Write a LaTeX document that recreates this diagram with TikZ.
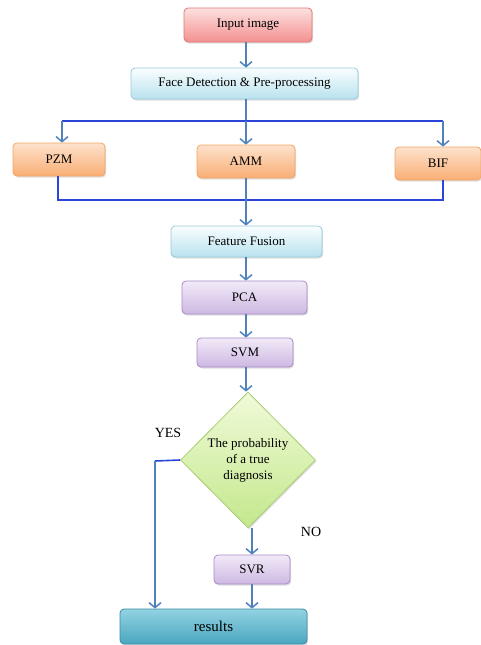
\documentclass[tikz,border=0pt]{standalone}
\usepackage{fontspec}
\setmainfont{Liberation Serif}
\usetikzlibrary{shapes.geometric,arrows.meta,shadows,calc}
\definecolor{arrblue}{HTML}{4F81BD}
\definecolor{busblue}{HTML}{2A45D8}
\definecolor{pinkT}{HTML}{FCE0E0}\definecolor{pinkB}{HTML}{F49090}\definecolor{pinkD}{HTML}{E07878}
\definecolor{cyanT}{HTML}{FAFEFF}\definecolor{cyanB}{HTML}{B8E2EE}\definecolor{cyanD}{HTML}{98CCDC}
\definecolor{oraT}{HTML}{FDE2CC}\definecolor{oraB}{HTML}{F9AE74}\definecolor{oraD}{HTML}{F2A466}
\definecolor{purT}{HTML}{F2EAF8}\definecolor{purB}{HTML}{CDB8E2}\definecolor{purD}{HTML}{A88AC8}
\definecolor{grnT}{HTML}{F0FAD8}\definecolor{grnB}{HTML}{C4E88C}\definecolor{grnD}{HTML}{A8CC78}
\definecolor{tealT}{HTML}{92D2E2}\definecolor{tealB}{HTML}{4AA6C0}\definecolor{tealD}{HTML}{3A8CA4}
\tikzset{
  box/.style={rounded corners=4pt, line width=0.8pt, align=center, inner sep=0pt,
    font=\fontsize{13}{15}\selectfont,
    drop shadow={opacity=0.25, shadow xshift=1.2pt, shadow yshift=-1.5pt}},
  pinkbox/.style={box, draw=pinkD, top color=pinkT, bottom color=pinkB},
  cyanbox/.style={box, draw=cyanD, top color=cyanT, bottom color=cyanB},
  orangebox/.style={box, draw=oraD, top color=oraT, bottom color=oraB},
  purplebox/.style={box, draw=purD, top color=purT, bottom color=purB},
  tealbox/.style={box, draw=tealD, top color=tealT, bottom color=tealB,
    font=\fontsize{15}{17}\selectfont},
  decision/.style={diamond, draw=grnD, line width=0.8pt, inner sep=0pt, align=center,
    top color=grnT, bottom color=grnB,
    font=\fontsize{13}{16}\selectfont,
    drop shadow={opacity=0.25, shadow xshift=1.2pt, shadow yshift=-1.5pt}},
  arr/.style={draw=arrblue, line width=1.6pt, -{Straight Barb[length=5pt,width=12pt,line width=1.5pt]}},
  plainline/.style={draw=arrblue, line width=1.6pt},
  bus/.style={draw=busblue, line width=1.6pt},
  lbl/.style={font=\fontsize{14}{16}\selectfont},
}
\begin{document}
\begin{tikzpicture}[x=1pt,y=-1pt]
\useasboundingbox (0,0) rectangle (480,645);
\node[pinkbox, minimum width=128pt, minimum height=34pt] (input) at (248,25) {Input image};
\node[cyanbox, minimum width=227pt, minimum height=31pt] (face) at (244.5,83.5) {Face Detection \& Pre-processing};
\node[orangebox, minimum width=92pt, minimum height=33pt] (pzm) at (59,159.5) {PZM};
\node[orangebox, minimum width=98pt, minimum height=33pt] (amm) at (246,161.5) {AMM};
\node[orangebox, minimum width=86pt, minimum height=33pt] (bif) at (438,163.5) {BIF};
\node[cyanbox, minimum width=151pt, minimum height=31pt] (fusion) at (246.5,241.5) {Feature Fusion};
\node[purplebox, minimum width=125pt, minimum height=33pt] (pca) at (244.5,297.5) {PCA};
\node[purplebox, minimum width=96pt, minimum height=29pt] (svm) at (245,352.5) {SVM};
\node[decision, minimum width=135pt, minimum height=136pt] (dec) at (248,460) {The probability\\of a true\\diagnosis};
\node[purplebox, minimum width=76pt, minimum height=29pt] (svr) at (252,569.5) {SVR};
\node[tealbox, minimum width=187pt, minimum height=35pt] (res) at (213.5,626.5) {results};
\node[lbl] (yes) at (168,433) {YES};
\node[lbl] (no) at (311,532) {NO};

\coordinate (split) at (246,121);
\coordinate (bl) at (62,121);
\coordinate (br) at (443,121);
\coordinate (jl) at (58,200);
\coordinate (jr) at (443,200);
\coordinate (yc) at (155,461);

\draw[arr] (input.south -| split) -- (face.north -| split);
\draw[plainline] (face.south -| split) -- (split);
\draw[bus] (bl) -- (br);
\draw[arr] (bl) -- (pzm.north -| bl);
\draw[arr] (split) -- (amm.north -| split);
\draw[arr] (br) -- (bif.north -| br);
\draw[bus] (pzm.south -| jl) -- (jl) -- (jr) -- (bif.south -| jr);
\draw[arr] (amm.south -| split) -- (fusion.north -| split);
\draw[arr] (fusion.south -| split) -- (pca.north -| split);
\draw[arr] (pca.south -| split) -- (svm.north -| split);
\draw[arr] (svm.south -| split) -- (dec.north -| split);
\draw[bus] (dec.west) -- (yc);
\draw[arr] (yc) -- (res.north -| yc);
\draw[arr] (dec.south -| svr) -- (svr.north);
\draw[arr] (svr.south) -- (res.north -| svr);
\end{tikzpicture}
\end{document}
